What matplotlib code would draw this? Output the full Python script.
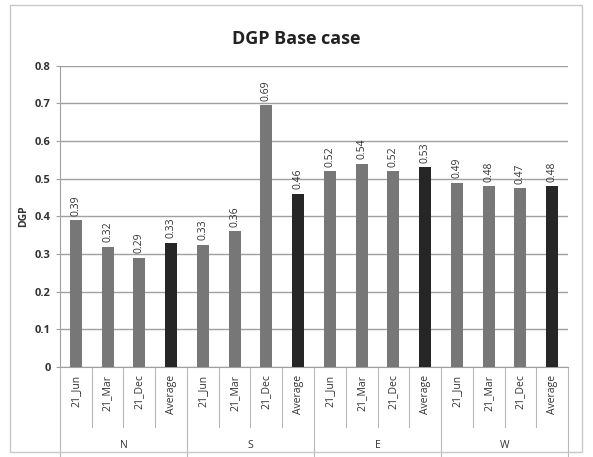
import numpy as np
import matplotlib
matplotlib.use("Agg")
import matplotlib.pyplot as plt
import matplotlib.transforms as mtransforms
from matplotlib.patches import Rectangle

plt.rcParams['font.family'] = ['Open Sans', 'DejaVu Sans']

groups = ['N', 'S', 'E', 'W']
months = ['21_Jun', '21_Mar', '21_Dec', 'Average']
values = [0.39, 0.32, 0.29, 0.33,
          0.325, 0.36, 0.695, 0.46,
          0.52, 0.54, 0.52, 0.53,
          0.49, 0.48, 0.475, 0.48]
labels = ['0.39', '0.32', '0.29', '0.33',
          '0.33', '0.36', '0.69', '0.46',
          '0.52', '0.54', '0.52', '0.53',
          '0.49', '0.48', '0.47', '0.48']

fig = plt.figure(figsize=(5.93, 4.57), dpi=100)
fig.patches.append(Rectangle((0.017, 0.01), 0.965, 0.978, transform=fig.transFigure,
                             fill=False, edgecolor='#c8c8c8', linewidth=1.0))
ax = fig.add_axes([0.101, 0.197, 0.857, 0.659])

x = np.arange(len(values))
colors = ['#262626' if i % 4 == 3 else '#777777' for i in range(len(values))]
ax.bar(x, values, width=0.38, color=colors, zorder=3)

for xi, v, lab in zip(x, values, labels):
    ax.text(xi, v + 0.012, lab, rotation=90, ha='center', va='bottom',
            fontsize=7.5, color='#333333')

ax.set_xlim(-0.5, len(values) - 0.5)
ax.set_ylim(0, 0.8)
ax.set_yticks(np.arange(0, 0.81, 0.1))
ax.set_yticklabels(['0'] + ['%.1f' % t for t in np.arange(0.1, 0.81, 0.1)],
                   fontsize=8, fontweight='bold', color='#333333')
ax.yaxis.grid(True, color='#a0a0a0', linewidth=1.0, zorder=0)
ax.tick_params(axis='y', length=3, color='#a0a0a0')
ax.set_xticks([])
for s in ['top', 'right']:
    ax.spines[s].set_visible(False)
ax.spines['left'].set_color('#a0a0a0')
ax.spines['bottom'].set_color('#a0a0a0')

ax.set_ylabel('DGP', fontsize=7.5, fontweight='bold', color='#333333', labelpad=4)
fig.text(0.5, 0.915, 'DGP Base case', ha='center', va='center',
         fontsize=13, fontweight='bold', color='#222222')

trans = mtransforms.blended_transform_factory(ax.transData, ax.transAxes)
for i in range(len(values)):
    ax.text(x[i], -0.025, months[i % 4], rotation=90, ha='center', va='top',
            fontsize=7.5, color='#333333', transform=trans)
for i in range(len(values) + 1):
    bottom = -0.295 if i % 4 == 0 else -0.2
    ax.plot([i - 0.5, i - 0.5], [0, bottom], color='#b8b8b8', linewidth=0.8,
            transform=trans, clip_on=False)
for g, name in enumerate(groups):
    ax.text(g * 4 + 1.5, -0.26, name, ha='center', va='center',
            fontsize=7.5, color='#333333', transform=trans)

fig.savefig('out.png', dpi=100)
